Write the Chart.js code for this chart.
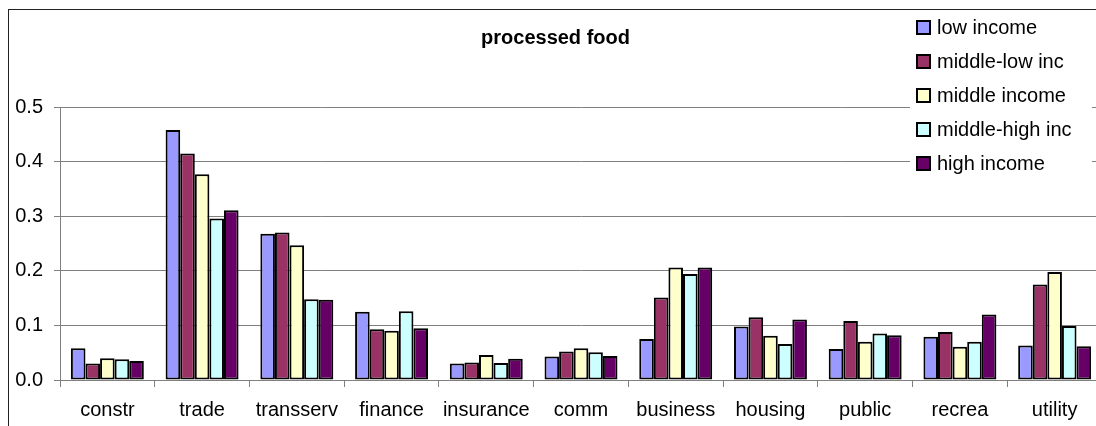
<!DOCTYPE html>
<html>
<head>
<meta charset="utf-8">
<script src="https://cdn.jsdelivr.net/npm/chart.js@4/dist/chart.umd.min.js"></script>
<style>
  html, body { margin: 0; padding: 0; background: #fff; overflow: hidden; width: 1096px; height: 426px; }
  #frame { position: absolute; left: 8px; top: 9px; width: 1098px; height: 430px; border: 1px solid #222; }
  canvas { display: block; }
</style>
</head>
<body>
<div id="frame"><canvas id="chart" width="1098" height="430"></canvas></div>
<script>
const categories = ['constr', 'trade', 'transserv', 'finance', 'insurance', 'comm', 'business', 'housing', 'public', 'recrea', 'utility'];
const seriesNames = ['low income', 'middle-low inc', 'middle income', 'middle-high inc', 'high income'];
const seriesColors = ['#9999FF', '#993366', '#FFFFCC', '#CCFFFF', '#660066'];
const lowIncome     = [0.058, 0.458, 0.268, 0.125, 0.030, 0.043, 0.075, 0.098, 0.057, 0.079, 0.063];
const middleLowInc  = [0.030, 0.415, 0.270, 0.093, 0.032, 0.052, 0.151, 0.115, 0.108, 0.088, 0.175];
const middleIncome  = [0.040, 0.377, 0.247, 0.090, 0.046, 0.058, 0.206, 0.081, 0.070, 0.061, 0.198];
const middleHighInc = [0.038, 0.296, 0.148, 0.126, 0.031, 0.051, 0.194, 0.066, 0.085, 0.070, 0.099];
const highIncome    = [0.035, 0.311, 0.147, 0.095, 0.039, 0.044, 0.206, 0.111, 0.082, 0.120, 0.062];
const yTicks = [0, 0.1, 0.2, 0.3, 0.4, 0.5];

const FONT = 'Arial, "Liberation Sans", sans-serif';
const GRID = '#808080';
const allSeries = [lowIncome, middleLowInc, middleIncome, middleHighInc, highIncome];

// legend drawn by hand: white box over the gridlines, like the original
const boxLegend = {
    id: 'boxLegend',
    afterDraw(chart) {
        const ctx = chart.ctx;
        ctx.save();
        ctx.fillStyle = '#fff';
        ctx.fillRect(901, 0, 182, 176);
        ctx.font = '20px ' + FONT;
        ctx.textBaseline = 'middle';
        chart.data.datasets.forEach((ds, i) => {
            const y = 17 + i * 34;
            ctx.fillStyle = ds.backgroundColor;
            ctx.fillRect(908, y - 6, 13, 13);
            ctx.strokeStyle = '#000';
            ctx.lineWidth = 2;
            ctx.strokeRect(908, y - 6, 13, 13);
            ctx.fillStyle = '#000';
            ctx.fillText(ds.label, 928, y + 1);
        });
        ctx.restore();
    }
};

new Chart(document.getElementById('chart'), {
    type: 'bar',
    data: {
        labels: categories,
        datasets: allSeries.map((d, i) => ({
            label: seriesNames[i],
            data: d,
            backgroundColor: seriesColors[i],
            borderColor: '#000',
            borderWidth: 2,
            borderSkipped: false,
            categoryPercentage: 0.77,
            barPercentage: 1.0
        }))
    },
    options: {
        responsive: false,
        animation: false,
        layout: { padding: { left: 0, right: 5, top: 0, bottom: 0 } },
        plugins: {
            legend: { display: false },
            tooltip: { enabled: false },
            title: {
                display: true,
                text: 'processed food',
                color: '#000',
                font: { family: FONT, size: 20, weight: 'bold' },
                padding: { top: 16, bottom: 57 }
            }
        },
        scales: {
            x: {
                grid: { drawOnChartArea: false, drawTicks: true, tickLength: 7, color: GRID },
                border: { color: GRID, width: 1 },
                ticks: { color: '#000', font: { family: FONT, size: 20 }, padding: 11, maxRotation: 0, autoSkip: false },
                afterFit: s => { s.height = 60; }
            },
            y: {
                min: 0,
                max: 0.5,
                afterBuildTicks: s => { s.ticks = yTicks.map(v => ({ value: v })); },
                grid: { color: GRID, tickLength: 6, drawTicks: true },
                border: { color: GRID, width: 1 },
                ticks: { color: '#000', font: { family: FONT, size: 20 }, padding: 11, callback: v => v.toFixed(1) },
                afterFit: s => { s.width = 51; }
            }
        }
    },
    plugins: [boxLegend]
});
</script>
</body>
</html>
